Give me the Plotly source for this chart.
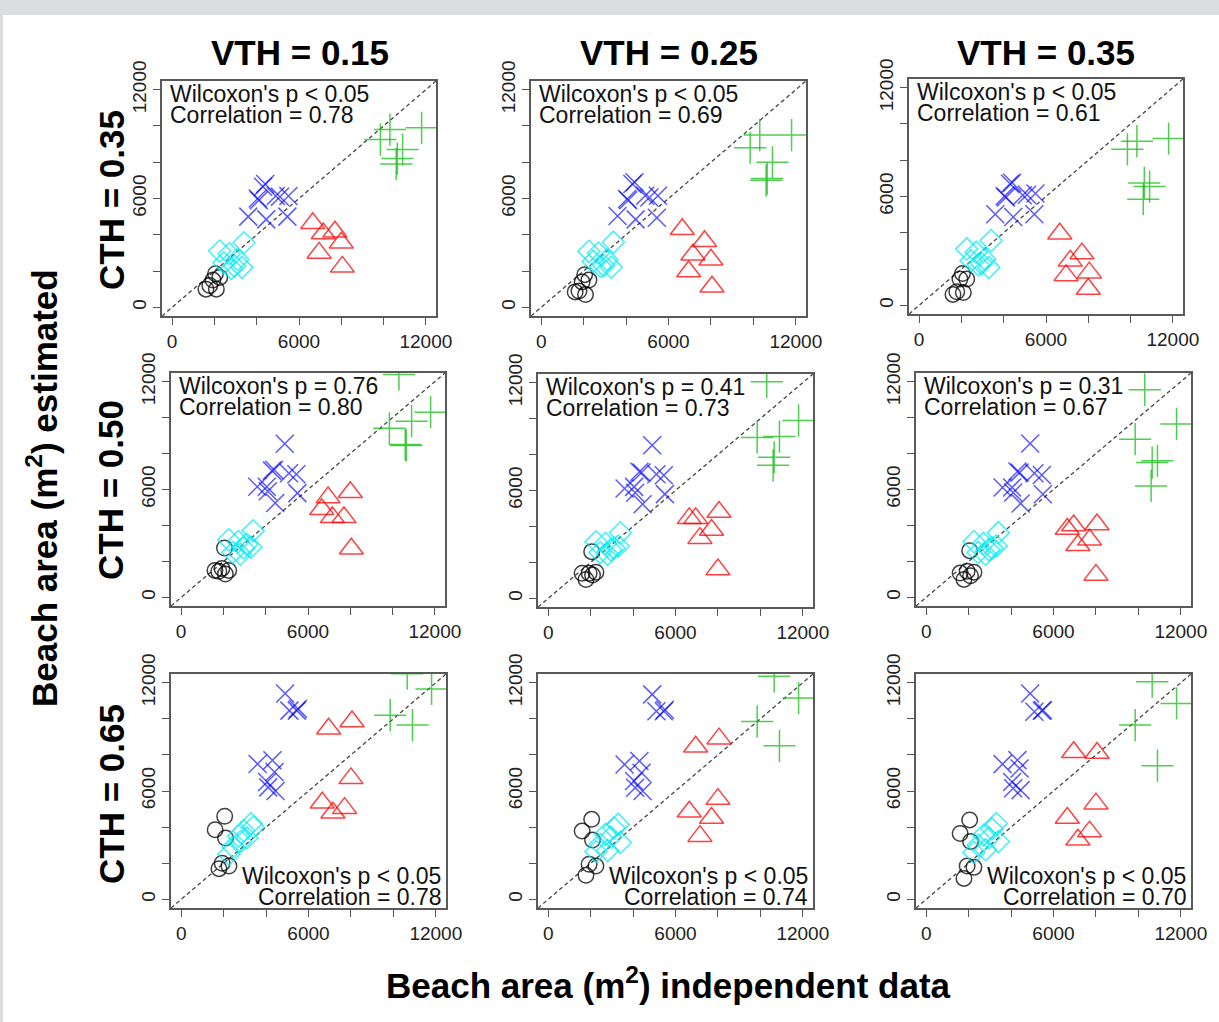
import plotly.graph_objects as go

W, H = 1219, 1022
FONT = "Liberation Sans, Arial, Helvetica, sans-serif"

# ---------------- data ----------------
vth_labels = ["VTH = 0.15", "VTH = 0.25", "VTH = 0.35"]
cth_labels = ["CTH = 0.35", "CTH = 0.50", "CTH = 0.65"]
wilcoxon = [["p < 0.05", "p < 0.05", "p < 0.05"],
            ["p = 0.76", "p = 0.41", "p = 0.31"],
            ["p < 0.05", "p < 0.05", "p < 0.05"]]
correlation = [["0.78", "0.69", "0.61"],
               ["0.80", "0.73", "0.67"],
               ["0.78", "0.74", "0.70"]]

# independent data (x), shared by all panels
x_black = [1600, 1780, 1930, 2050, 2090, 2250]
x_cyan = [2250, 2450, 2700, 2800, 2950, 3100, 3300, 3400]
x_blue = [3600, 4050, 4100, 4300, 4400, 4450, 4900, 5100, 5450, 5500]
x_red = [6650, 6950, 7150, 7700, 8000, 8050]
x_green = [9850, 10300, 10600, 10650, 10900, 11800]

# estimated (y) per panel [row CTH][col VTH]
y_black = [
    [[1000, 1200, 1500, 1850, 1000, 1650], [850, 900, 1400, 1800, 700, 1500], [600, 750, 1450, 1750, 700, 1450]],
    [[1500, 1450, 1600, 2750, 1300, 1500], [1400, 1050, 1400, 2600, 1300, 1450], [1350, 1000, 1450, 2600, 1200, 1400]],
    [[3850, 1700, 2000, 4600, 3400, 1850], [3780, 1330, 1940, 4430, 3280, 1850], [3650, 1160, 1850, 4400, 3200, 1770]],
]
y_cyan = [
    [[3100, 2450, 2950, 2150, 2270, 2640, 2200, 3560], [3090, 2530, 2990, 2250, 2300, 2620, 2210, 3590], [3110, 2460, 2930, 2240, 2300, 2560, 2090, 3570]],
    [[3200, 2500, 3100, 2400, 2750, 2950, 2800, 3700], [3150, 2550, 3050, 2450, 2700, 2800, 2900, 3650], [3100, 2500, 3000, 2400, 2650, 2750, 2850, 3600]],
    [[2500, 2900, 3500, 3200, 3800, 3400, 4200, 4000], [2650, 3050, 3600, 2700, 3450, 3950, 4150, 3150], [2600, 3000, 3550, 2750, 3400, 3900, 4200, 3200]],
]
y_blue = [
    [[5000, 6000, 5900, 6650, 6800, 4850, 6140, 6100, 5000, 6140], [5040, 5970, 5900, 6800, 6900, 4850, 6150, 6060, 4940, 6150], [5020, 6020, 5950, 6700, 6760, 4870, 6070, 6100, 5020, 6170]],
    [[6150, 6150, 5900, 7050, 7100, 5250, 8550, 6900, 6850, 5800], [6110, 6200, 5870, 7040, 7000, 5240, 8520, 6900, 6850, 5800], [6110, 6110, 5830, 7000, 6940, 5220, 8560, 6900, 6810, 5740]],
    [[7500, 6500, 6200, 7700, 7050, 6000, 11400, 10450, 10450, 10550], [7470, 6550, 6180, 7660, 7010, 6000, 11350, 10420, 10420, 10500], [7490, 6500, 6150, 7710, 7250, 6050, 11400, 10390, 10440, 10480]],
]
y_red = [
    [[4630, 3000, 4070, 4170, 3560, 2230], [4300, 1970, 2900, 3640, 2620, 1130], [3950, 1650, 2450, 2850, 900, 1800]],
    [[4900, 5550, 4450, 4450, 5850, 2700], [4450, 4450, 3350, 3800, 1600, 4800], [3800, 4000, 2900, 3200, 1250, 4050]],
    [[5350, 9450, 4800, 5050, 6700, 9850], [4850, 8450, 3500, 4500, 5550, 8900], [4500, 8150, 3300, 3750, 5300, 8100]],
]
y_green = [
    [[9250, 9800, 7900, 8200, 8700, 9900], [8800, 9500, 7000, 7100, 8000, 9500], [8600, 9050, 5850, 6750, 6550, 9200]],
    [[9400, 12400, 8500, 8450, 9800, 10300], [8950, 12050, 7400, 7850, 9000, 9900], [8800, 11550, 6200, 7500, 7600, 9650]],
    [[10200, 14500, 13800, 12500, 9650, 11650], [9850, 14000, 13500, 12350, 8500, 11150], [9650, 14000, 13500, 12050, 7400, 10850]],
]

axis_range = [-480, 12480]
tick_vals = [0, 2000, 4000, 6000, 8000, 10000, 12000]
tick_text = ["0", " ", " ", "6000", " ", " ", "12000"]

# panel boxes in pixels (left, right, top, bottom)
boxes = [
    [(162, 436, 81, 316), (531, 806, 81, 316), (909, 1183, 79, 314)],
    [(171, 445, 373, 606), (538, 813, 374, 607), (916, 1191, 373, 606)],
    [(171, 446, 674, 908), (538, 813, 674, 908), (916, 1191, 674, 908)],
]

groups = [
    ("black", x_black, y_black, "circle-open", 15.5, "rgba(0,0,0,0.75)"),
    ("cyan", x_cyan, y_cyan, "diamond-open", 17, "rgba(0,235,245,0.75)"),
    ("blue", x_blue, y_blue, "x-thin-open", 18, "rgba(0,0,255,0.65)"),
    ("red", x_red, y_red, "triangle-up-open", 21, "rgba(255,0,0,0.75)"),
    ("green", x_green, y_green, "cross-thin-open", 23, "rgba(20,190,20,0.75)"),
]

fig = go.Figure()
layout = dict(width=W, height=H, margin=dict(l=0, r=0, t=0, b=0, autoexpand=False),
              paper_bgcolor="white", plot_bgcolor="white", showlegend=False,
              annotations=[], shapes=[])

for r in range(3):
    for c in range(3):
        idx = r * 3 + c + 1
        sx = "" if idx == 1 else str(idx)
        L, R, T, B = boxes[r][c]
        xd = [L / W, R / W]
        yd = [1 - B / H, 1 - T / H]
        common = dict(range=axis_range, tickvals=tick_vals, ticktext=tick_text,
                      ticks="outside", ticklen=7, tickwidth=1.2, tickcolor="#555",
                      showline=True, mirror=True, linecolor="#5a5a5a", linewidth=1.6,
                      showgrid=False, zeroline=False, automargin=False,
                      tickfont=dict(family=FONT, size=19, color="#222"))
        layout["xaxis" + sx] = dict(common, domain=xd, anchor="y" + sx)
        layout["yaxis" + sx] = dict(common, domain=yd, anchor="x" + sx, tickangle=-90)

        # 1:1 dashed line
        fig.add_trace(go.Scatter(x=axis_range, y=axis_range, mode="lines",
                                 line=dict(color="#444", width=1.3, dash="4px,3px"),
                                 xaxis="x" + sx, yaxis="y" + sx, hoverinfo="skip"))
        for name, xs, ys, sym, size, col in groups:
            fig.add_trace(go.Scatter(
                x=xs, y=ys[r][c], mode="markers", name=name,
                marker=dict(symbol=sym, size=size, color=col,
                            line=dict(color=col, width=1.5)),
                xaxis="x" + sx, yaxis="y" + sx, cliponaxis=True))

        xr = "x" + sx + " domain"
        yr = "y" + sx + " domain"
        l1 = "Wilcoxon's " + wilcoxon[r][c].replace("<", "&lt;")
        l2 = "Correlation = " + correlation[r][c]
        if r < 2:
            for txt, shift in ((l1, -13), (l2, -34)):
                layout["annotations"].append(dict(
                    text=txt, xref=xr, yref=yr, x=0, y=1, xanchor="left", yanchor="middle",
                    xshift=6, yshift=shift, showarrow=False,
                    font=dict(family=FONT, size=23, color="#111")))
        else:
            for txt, shift in ((l1, 32), (l2, 11)):
                layout["annotations"].append(dict(
                    text=txt, xref=xr, yref=yr, x=1, y=0, xanchor="right", yanchor="middle",
                    xshift=-3, yshift=shift, showarrow=False,
                    font=dict(family=FONT, size=23, color="#111")))

# column titles
for c, (txt, cx) in enumerate(zip(vth_labels, [300, 669, 1046])):
    layout["annotations"].append(dict(
        text="<b>" + txt + "</b>", xref="paper", yref="paper", x=cx / W, y=1 - 52 / H,
        xanchor="center", yanchor="middle", showarrow=False,
        font=dict(family=FONT, size=35, color="#000")))
# row titles
for r, (txt, cy) in enumerate(zip(cth_labels, [200, 490, 794])):
    layout["annotations"].append(dict(
        text="<b>" + txt + "</b>", xref="paper", yref="paper", x=111 / W, y=1 - cy / H,
        xanchor="center", yanchor="middle", textangle=-90, showarrow=False,
        font=dict(family=FONT, size=35, color="#000")))
# axis titles
layout["annotations"].append(dict(
    text="<b>Beach area (m<sup>2</sup>) estimated</b>", xref="paper", yref="paper",
    x=42 / W, y=1 - 488 / H, xanchor="center", yanchor="middle", textangle=-90,
    showarrow=False, font=dict(family=FONT, size=35, color="#000")))
layout["annotations"].append(dict(
    text="<b>Beach area (m<sup>2</sup>) independent data</b>", xref="paper", yref="paper",
    x=668 / W, y=1 - 983 / H, xanchor="center", yanchor="middle",
    showarrow=False, font=dict(family=FONT, size=35, color="#000")))

# page frame (grey band on top, thin strip on left)
layout["shapes"].append(dict(type="rect", xref="paper", yref="paper", x0=0, x1=1,
                             y0=1 - 15 / H, y1=1, fillcolor="#dcdde0", line=dict(width=0), layer="below"))
layout["shapes"].append(dict(type="rect", xref="paper", yref="paper", x0=0, x1=3 / W,
                             y0=0, y1=1, fillcolor="#dcdde0", line=dict(width=0), layer="below"))

fig.update_layout(**layout)
fig.write_html("out.html", config={"displayModeBar": False},
               post_script="document.body.style.margin='0px';document.body.style.overflow='hidden';")
